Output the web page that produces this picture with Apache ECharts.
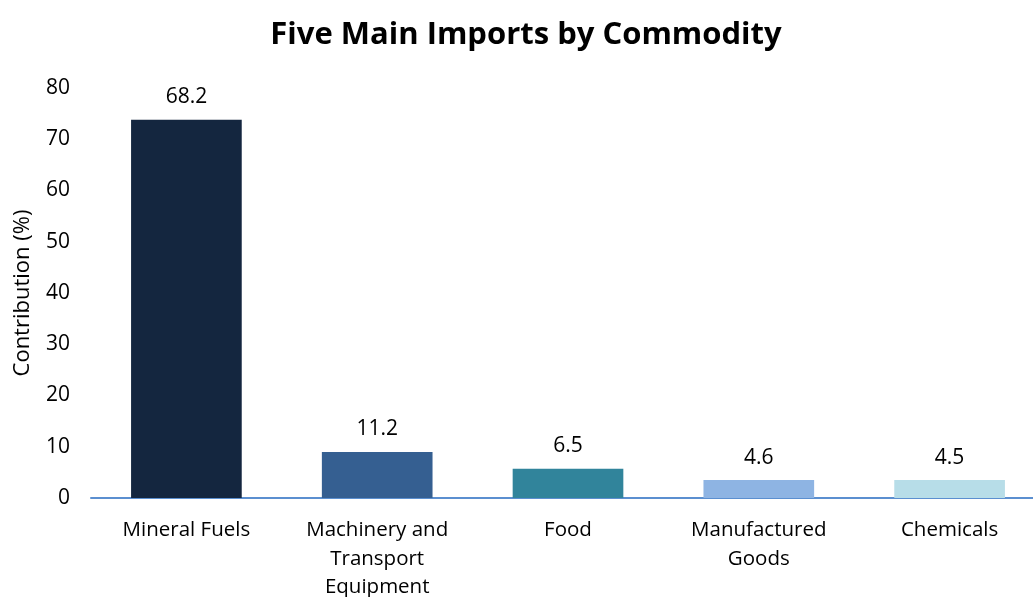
<!DOCTYPE html>
<html><head><meta charset="utf-8">
<script src="https://cdn.jsdelivr.net/npm/echarts@6/dist/echarts.min.js"></script>
<style>html,body{margin:0;padding:0;background:#fff}#c{width:1033px;height:597px}</style>
</head><body><div id="c"></div>
<script>
const categories = ["Mineral Fuels", "Machinery and\nTransport\nEquipment", "Food", "Manufactured\nGoods", "Chemicals"];
const barValues = [73.8, 9.0, 5.7, 3.5, 3.5];
const labelTexts = ["68.2", "11.2", "6.5", "4.6", "4.5"];
const barColors = ["#14263F", "#355F91", "#31849B", "#8EB4E3", "#B7DDE8"];
const yTicks = {min: 0, max: 80, interval: 10};

const FONT = "'Open Sans', 'Noto Sans', sans-serif";
const chart = echarts.init(document.getElementById('c'));
chart.setOption({
  animation: false,
  title: {text: "Five Main Imports by Commodity", left: 521, top: 15, textAlign: 'center',
    textStyle: {fontFamily: FONT, fontWeight: 'bold', fontSize: 31, color: '#000'}},
  grid: {left: 91, right: -12, top: 88, bottom: 99, containLabel: false, outerBoundsMode: 'none'},
  xAxis: {type: 'category', data: categories,
    axisLine: {lineStyle: {color: '#5B8FD0', width: 2}},
    axisTick: {show: false},
    axisLabel: {fontFamily: FONT, fontSize: 20.5, color: '#000', lineHeight: 28.5, margin: 18, interval: 0}},
  yAxis: {type: 'value', min: yTicks.min, max: yTicks.max, interval: yTicks.interval,
    name: "Contribution (%)", nameLocation: 'middle', nameGap: 57, nameRotate: 90,
    nameTextStyle: {fontFamily: FONT, fontSize: 22, color: '#000'},
    splitLine: {show: false}, axisLine: {show: false}, axisTick: {show: false},
    axisLabel: {fontFamily: FONT, fontSize: 21, color: '#000', margin: 21}},
  series: [{type: 'bar', barWidth: '58%',
    data: barValues.map((v, i) => ({value: v, itemStyle: {color: barColors[i]},
      label: {formatter: labelTexts[i]}})),
    label: {show: true, position: 'top', distance: 12, fontFamily: FONT, fontSize: 21, color: '#000'}}]
});
</script></body></html>
